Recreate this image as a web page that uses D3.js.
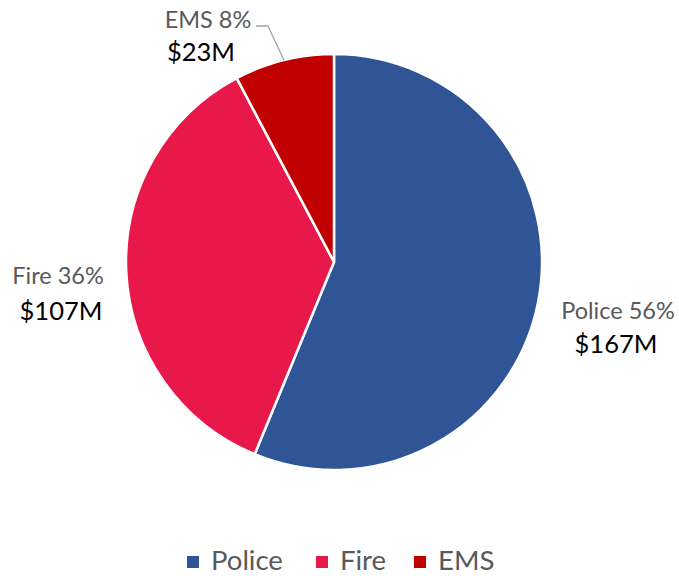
<!DOCTYPE html>
<html>
<head>
<meta charset="utf-8">
<script src="https://cdn.jsdelivr.net/npm/d3@7/dist/d3.min.js"></script>
<style>
  html, body { margin: 0; padding: 0; background: #fff; }
  svg { display: block; font-family: Lato, "Open Sans", sans-serif; }
</style>
</head>
<body>
<svg id="chart" width="679" height="576"></svg>
<script>
// Public safety budget split
const categories = ["Police", "Fire", "EMS"];
const amounts = [167, 107, 23];          // $M
const percents = [56, 36, 8];            // %
const colors = ["#2F5597", "#E8194A", "#C00000"];

const svg = d3.select("#chart");
const cx = 334, cy = 262, radius = 208;

const pie = d3.pie().sort(null).value(d => d.amount);
const data = categories.map((c, i) => ({ name: c, amount: amounts[i], pct: percents[i], color: colors[i] }));
const arcs = pie(data);
const arc = d3.arc().innerRadius(0).outerRadius(radius);

const g = svg.append("g").attr("transform", `translate(${cx},${cy})`);
g.selectAll("path.slice")
  .data(arcs)
  .join("path")
  .attr("class", "slice")
  .attr("d", arc)
  .attr("fill", d => d.data.color)
  .attr("stroke", "#fff")
  .attr("stroke-width", 2.5)
  .attr("stroke-linejoin", "round");

// Label placement (offsets from the pie centre): name line, then amount line
const labelPos = {
  Police: { x: 284, y: 57, vx: 282, vy: 91 },
  Fire:   { x: -276, y: 22, vx: -273, vy: 58 },
  EMS:    { x: -126, y: -234, vx: -133, vy: -201 }
};

// Leader line for the small EMS slice
const ems = arcs[2];
const emsMid = (ems.startAngle + ems.endAngle) / 2;
const edge = [Math.sin(emsMid) * radius, -Math.cos(emsMid) * radius];
g.append("polyline")
  .attr("points", [[-78, -236], [-66, -236], [edge[0], edge[1]]].map(p => p.join(",")).join(" "))
  .attr("fill", "none")
  .attr("stroke", "#A6A6A6")
  .attr("stroke-width", 1.3);

arcs.forEach(d => {
  const p = labelPos[d.data.name];
  g.append("text")
    .attr("x", p.x).attr("y", p.y)
    .attr("text-anchor", "middle")
    .attr("fill", "#595959")
    .attr("font-size", 23.5)
    .text(`${d.data.name} ${d.data.pct}%`);
  g.append("text")
    .attr("x", p.vx).attr("y", p.vy)
    .attr("text-anchor", "middle")
    .attr("fill", "#000")
    .attr("font-size", 25.5)
    .text(`$${d.data.amount}M`);
});

// Legend
const legendX = [187, 316, 414];
const legend = svg.append("g").attr("transform", "translate(0,562)");
categories.forEach((c, i) => {
  const item = legend.append("g").attr("transform", `translate(${legendX[i]},0)`);
  item.append("rect").attr("x", 0).attr("y", -6).attr("width", 12).attr("height", 12).attr("fill", colors[i]);
  item.append("text").attr("x", 24).attr("y", 8).attr("font-size", 27.5).attr("fill", "#595959").text(c);
});
</script>
</body>
</html>
